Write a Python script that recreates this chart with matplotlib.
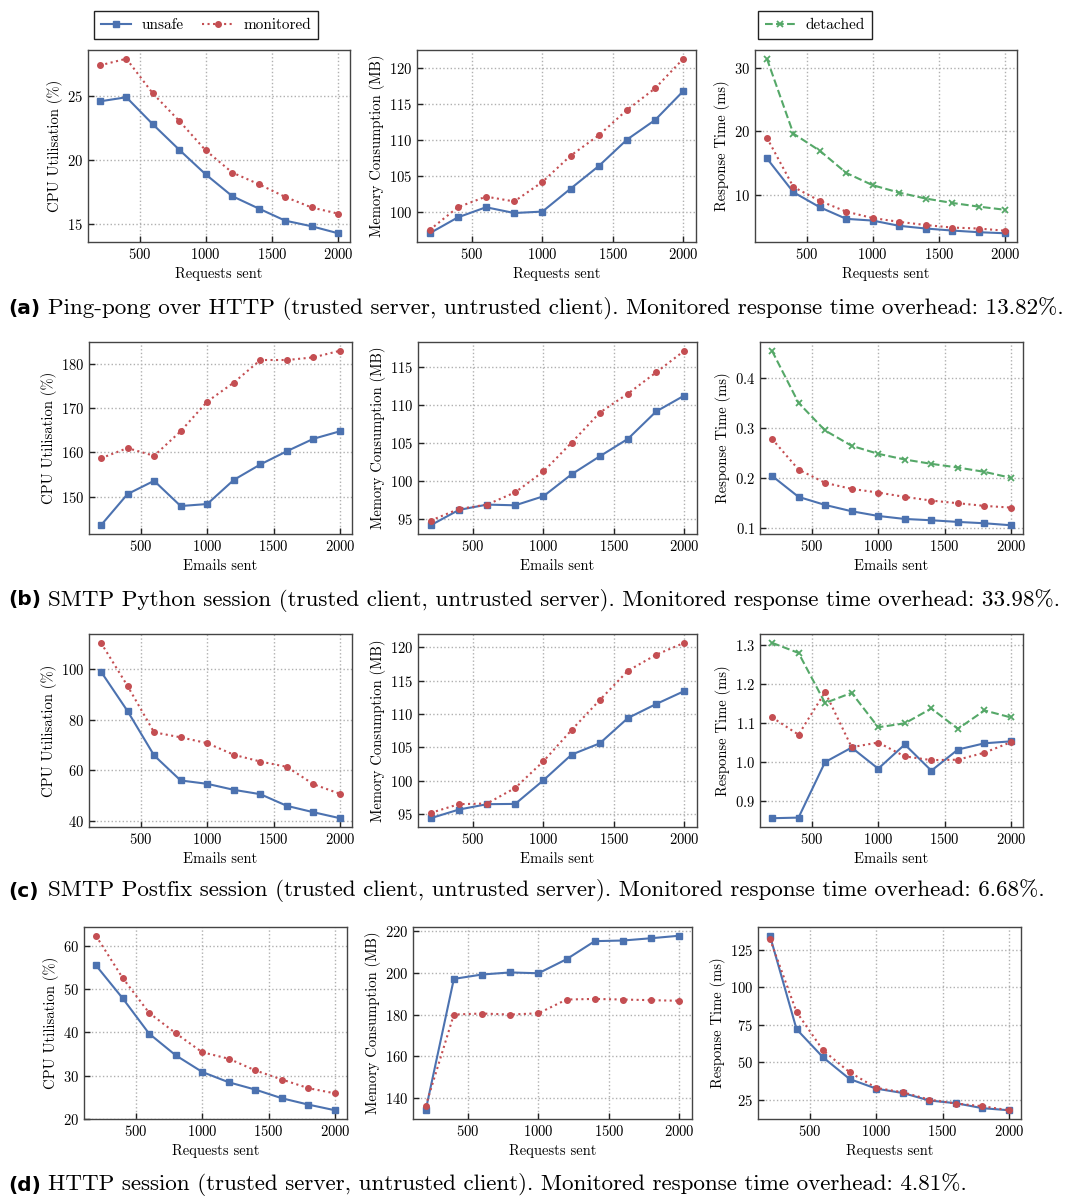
import numpy as np
import matplotlib.pyplot as plt

plt.rcParams['font.family'] = ['cmr10', 'DejaVu Serif']
plt.rcParams['axes.formatter.use_mathtext'] = True
plt.rcParams['font.size'] = 10

# number of requests / emails sent
x = [200, 400, 600, 800, 1000, 1200, 1400, 1600, 1800, 2000]

# (a) Ping-pong over HTTP
a_cpu_unsafe = [24.58, 24.9, 22.78, 20.78, 18.85, 17.15, 16.18, 15.23, 14.79, 14.24]
a_cpu_mon = [27.4, 27.92, 25.2, 23.04, 20.73, 19.0, 18.09, 17.09, 16.26, 15.78]
a_mem_unsafe = [97.1, 99.3, 100.7, 99.9, 100.1, 103.27, 106.4, 110.05, 112.77, 116.77]
a_mem_mon = [97.56, 100.7, 102.17, 101.5, 104.2, 107.83, 110.65, 114.15, 117.15, 121.24]
a_rt_unsafe = [15.7, 10.37, 8.0, 6.17, 5.9, 5.07, 4.65, 4.33, 4.07, 3.9]
a_rt_mon = [18.95, 11.2, 9.0, 7.3, 6.3, 5.7, 5.2, 4.8, 4.65, 4.3]
a_rt_det = [31.4, 19.6, 16.9, 13.4, 11.47, 10.3, 9.37, 8.68, 8.1, 7.6]

# (b) SMTP Python session
b_cpu_unsafe = [143.55, 150.6, 153.6, 147.9, 148.35, 153.8, 157.3, 160.3, 163.1, 164.8]
b_cpu_mon = [158.7, 161.0, 159.25, 164.8, 171.5, 175.8, 180.9, 180.9, 181.5, 183.0]
b_mem_unsafe = [94.12, 96.14, 96.84, 96.75, 97.94, 100.83, 103.2, 105.5, 109.1, 111.2]
b_mem_mon = [94.74, 96.27, 96.84, 98.46, 101.2, 105.0, 108.95, 111.45, 114.25, 117.1]
b_rt_unsafe = [0.2047, 0.1627, 0.1466, 0.134, 0.1246, 0.1186, 0.116, 0.1127, 0.11, 0.106]
b_rt_mon = [0.2786, 0.2173, 0.1907, 0.1787, 0.1713, 0.1627, 0.1553, 0.15, 0.1447, 0.1413]
b_rt_det = [0.4546, 0.3506, 0.2953, 0.2647, 0.2487, 0.2373, 0.2287, 0.2213, 0.2127, 0.2007]

# (c) SMTP Postfix session
c_cpu_unsafe = [99.07, 83.44, 65.83, 55.9, 54.57, 52.19, 50.46, 45.83, 43.3, 40.93]
c_cpu_mon = [110.5, 93.4, 75.0, 73.0, 70.7, 66.1, 63.4, 61.3, 54.4, 50.6]
c_mem_unsafe = [94.35, 95.65, 96.46, 96.5, 100.05, 103.9, 105.6, 109.4, 111.5, 113.45]
c_mem_mon = [95.15, 96.46, 96.56, 98.9, 102.9, 107.6, 112.1, 116.5, 118.9, 120.7]
c_rt_unsafe = [0.8564, 0.858, 1.0, 1.037, 0.983, 1.045, 0.978, 1.032, 1.048, 1.053]
c_rt_mon = [1.1145, 1.07, 1.179, 1.038, 1.05, 1.0145, 1.005, 1.006, 1.024, 1.051]
c_rt_det = [1.305, 1.279, 1.151, 1.177, 1.089, 1.099, 1.137, 1.085, 1.132, 1.114]

# (d) HTTP session
d_cpu_unsafe = [55.46, 47.9, 39.7, 34.7, 30.85, 28.46, 26.77, 24.77, 23.3, 22.0]
d_cpu_mon = [62.3, 52.6, 44.5, 39.8, 35.4, 33.9, 31.2, 29.1, 27.1, 25.9]
d_mem_unsafe = [134.1, 197.1, 199.2, 200.2, 199.8, 206.55, 215.2, 215.5, 216.6, 217.8]
d_mem_mon = [136.2, 180.0, 180.5, 180.0, 180.6, 187.2, 187.5, 187.2, 186.9, 186.6]
d_rt_unsafe = [134.3, 72.1, 53.3, 38.9, 32.5, 29.6, 24.6, 22.8, 19.5, 18.1]
d_rt_mon = [132.1, 83.6, 57.96, 43.4, 33.0, 30.1, 25.2, 22.6, 20.8, 18.1]

captions = [
    ("(a)", "Ping-pong over HTTP (trusted server, untrusted client). Monitored response time overhead: 13.82%."),
    ("(b)", "SMTP Python session (trusted client, untrusted server). Monitored response time overhead: 33.98%."),
    ("(c)", "SMTP Postfix session (trusted client, untrusted server). Monitored response time overhead: 6.68%."),
    ("(d)", "HTTP session (trusted server, untrusted client). Monitored response time overhead: 4.81%."),
]
xlabels = ["Requests sent", "Emails sent", "Emails sent", "Requests sent"]

rows = [
    (a_cpu_unsafe, a_cpu_mon, a_mem_unsafe, a_mem_mon, a_rt_unsafe, a_rt_mon, a_rt_det),
    (b_cpu_unsafe, b_cpu_mon, b_mem_unsafe, b_mem_mon, b_rt_unsafe, b_rt_mon, b_rt_det),
    (c_cpu_unsafe, c_cpu_mon, c_mem_unsafe, c_mem_mon, c_rt_unsafe, c_rt_mon, c_rt_det),
    (d_cpu_unsafe, d_cpu_mon, d_mem_unsafe, d_mem_mon, d_rt_unsafe, d_rt_mon, None),
]

BLUE = '#4c72b0'
RED = '#c44e52'
GREEN = '#55a868'

W, H = 1070, 1198
fig = plt.figure(figsize=(W / 100, H / 100), dpi=100)

# pixel boxes of the axes: (top, bottom) per row, (left, right) per column
row_y = [(50, 242), (342, 534), (634, 827), (927, 1119)]
col_x = [
    [(88, 350), (417, 696), (755, 1017)],
    [(89, 352), (418, 697), (760, 1023)],
    [(89, 352), (418, 697), (760, 1023)],
    [(84, 347), (413, 692), (758, 1021)],
]
cap_y = [308, 600, 891, 1185]
ylabels = ["CPU Utilisation (%)", "Memory Consumption (MB)", "Response Time (ms)"]


def style(ax):
    ax.grid(True, linestyle=':', color='#b0b0b0', linewidth=1.0)
    ax.set_axisbelow(True)
    for s in ax.spines.values():
        s.set_color('#444444')
        s.set_linewidth(1.0)
    ax.tick_params(direction='in', length=4, width=1, color='#222222', labelsize=10.5)
    ax.set_xticks([500, 1000, 1500, 2000])


handles = {}
for r, data in enumerate(rows):
    cu, cm, mu, mm, ru, rm, rd = data
    top, bot = row_y[r]
    pairs = [(cu, cm, None), (mu, mm, None), (ru, rm, rd)]
    for c, (u, m, d) in enumerate(pairs):
        l, rr = col_x[r][c]
        ax = fig.add_axes([l / W, 1 - bot / H, (rr - l) / W, (bot - top) / H])
        h1, = ax.plot(x, u, '-', color=BLUE, marker='s', ms=4, lw=1.5, label='unsafe')
        h2, = ax.plot(x, m, ':', color=RED, marker='o', ms=4, lw=1.5, label='monitored')
        if d is not None:
            h3, = ax.plot(x, d, '--', color=GREEN, marker='x', ms=5, mew=1.3, lw=1.5, label='detached')
            handles['detached'] = h3
        handles['unsafe'] = h1
        handles['monitored'] = h2
        style(ax)
        ax.set_xlabel(xlabels[r], fontsize=10.5, labelpad=4)
        ax.set_ylabel(ylabels[c], fontsize=10.5, labelpad=3)
    tag, text = captions[r]
    fig.text(8 / W, 1 - cap_y[r] / H, tag, family='DejaVu Sans', weight='bold',
             fontsize=14.5, va='center', ha='left')
    fig.text(48 / W, 1 - cap_y[r] / H, text, fontsize=16.6, va='center', ha='left')

leg_kw = dict(frameon=True, fancybox=False, edgecolor='#222222', fontsize=11,
              handlelength=2.0, handletextpad=0.7, borderpad=0.45, framealpha=1)
lg1 = fig.legend([handles['unsafe'], handles['monitored']], ['unsafe', 'monitored'],
                 loc='center', bbox_to_anchor=(206 / W, 1 - 25 / H), ncol=2,
                 columnspacing=1.2, **leg_kw)
lg2 = fig.legend([handles['detached']], ['detached'], loc='center',
                 bbox_to_anchor=(815 / W, 1 - 25 / H), **leg_kw)

fig.savefig('out.png', dpi=100, facecolor='white')
